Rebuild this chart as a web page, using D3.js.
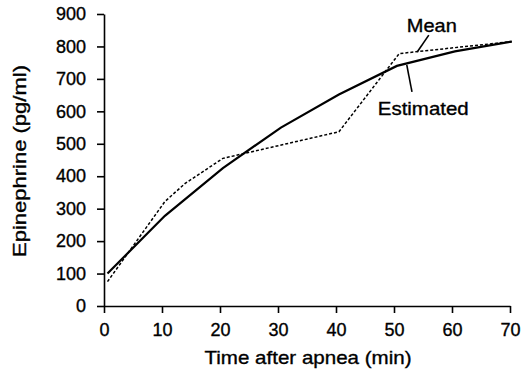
<!DOCTYPE html>
<html>
<head>
<meta charset="utf-8">
<script src="https://cdn.jsdelivr.net/npm/d3@7"></script>
<style>
  html, body { margin: 0; padding: 0; background: #fff; }
  svg { display: block; }
  text { font-family: "Liberation Sans", Arial, Helvetica, sans-serif; fill: #000; stroke: #000; stroke-width: 0.35px; }
</style>
</head>
<body>
<div id="chart"></div>
<script>
// ---- data ----
const estimatedTime = [0.6, 10.5, 20.5, 30.5, 40.5, 50.5, 60.5, 70.3];
const estimatedValue = [100, 278, 425, 550, 652, 740, 785, 815];
const meanTime = [0.6, 10.5, 14, 20.5, 40.5, 50.9, 70.3];
const meanValue = [75, 322, 378, 455, 537, 778, 815];
const xTicks = [0, 10, 20, 30, 40, 50, 60, 70];
const yTicks = [0, 100, 200, 300, 400, 500, 600, 700, 800, 900];
const xLabel = "Time after apnea (min)";
const yLabel = "Epinephrine (pg/ml)";
// annotations (data coordinates)
const annoLabels = ["Mean", "Estimated"];
const annoTextPos = [[52.2, 845], [47.2, 589]];
const annoLeaderFrom = [[56.0, 835], [52.2, 743]];
const annoLeaderTo = [[54.0, 783], [53.1, 660]];

// ---- layout ----
const W = 527, H = 375;
const margin = { left: 104, top: 14, right: 17, bottom: 69 };
const iw = W - margin.left - margin.right;
const ih = H - margin.top - margin.bottom;

const svg = d3.select("#chart").append("svg").attr("width", W).attr("height", H);
const g = svg.append("g").attr("transform", `translate(${margin.left},${margin.top})`);

const x = d3.scaleLinear().domain([0, 70]).range([0, iw]);
const y = d3.scaleLinear().domain([0, 900]).range([ih, 0]);

// axes
const xAxis = g.append("g").attr("transform", `translate(0,${ih})`)
  .call(d3.axisBottom(x).tickValues(xTicks).tickSize(7).tickSizeOuter(0).tickPadding(10));
const yAxis = g.append("g")
  .call(d3.axisLeft(y).tickValues(yTicks).tickSize(7).tickSizeOuter(0).tickPadding(11));
[xAxis, yAxis].forEach(a => {
  a.select(".domain").attr("stroke", "#000").attr("stroke-width", 1.6);
  a.selectAll(".tick line").attr("stroke", "#000").attr("stroke-width", 1.6);
  a.selectAll(".tick text").style("font-size", "18px").attr("fill", "#000");
});

// lines
const line = d3.line().x(d => x(d[0])).y(d => y(d[1]));
const estData = estimatedTime.map((t, i) => [t, estimatedValue[i]]);
const meanData = meanTime.map((t, i) => [t, meanValue[i]]);

g.append("path").datum(meanData).attr("d", line)
  .attr("fill", "none").attr("stroke", "#000").attr("stroke-width", 1.5)
  .attr("stroke-dasharray", "3,2");
g.append("path").datum(estData).attr("d", line)
  .attr("fill", "none").attr("stroke", "#000").attr("stroke-width", 2.2);

// annotations
annoLabels.forEach((lab, i) => {
  g.append("line")
    .attr("x1", x(annoLeaderFrom[i][0])).attr("y1", y(annoLeaderFrom[i][1]))
    .attr("x2", x(annoLeaderTo[i][0])).attr("y2", y(annoLeaderTo[i][1]))
    .attr("stroke", "#000").attr("stroke-width", 1.6);
  g.append("text")
    .attr("x", x(annoTextPos[i][0])).attr("y", y(annoTextPos[i][1]))
    .style("font-size", "19px")
    .attr("textLength", i === 0 ? 50 : 91).attr("lengthAdjust", "spacingAndGlyphs")
    .text(lab);
});

// axis labels
svg.append("text")
  .attr("x", margin.left + x(35) + 1).attr("y", 364)
  .attr("text-anchor", "middle").style("font-size", "19px")
  .attr("textLength", 207).attr("lengthAdjust", "spacingAndGlyphs")
  .text(xLabel);
svg.append("text")
  .attr("transform", "translate(26,161) rotate(-90)")
  .attr("text-anchor", "middle").style("font-size", "19px")
  .attr("textLength", 192).attr("lengthAdjust", "spacingAndGlyphs")
  .text(yLabel);
</script>
</body>
</html>
